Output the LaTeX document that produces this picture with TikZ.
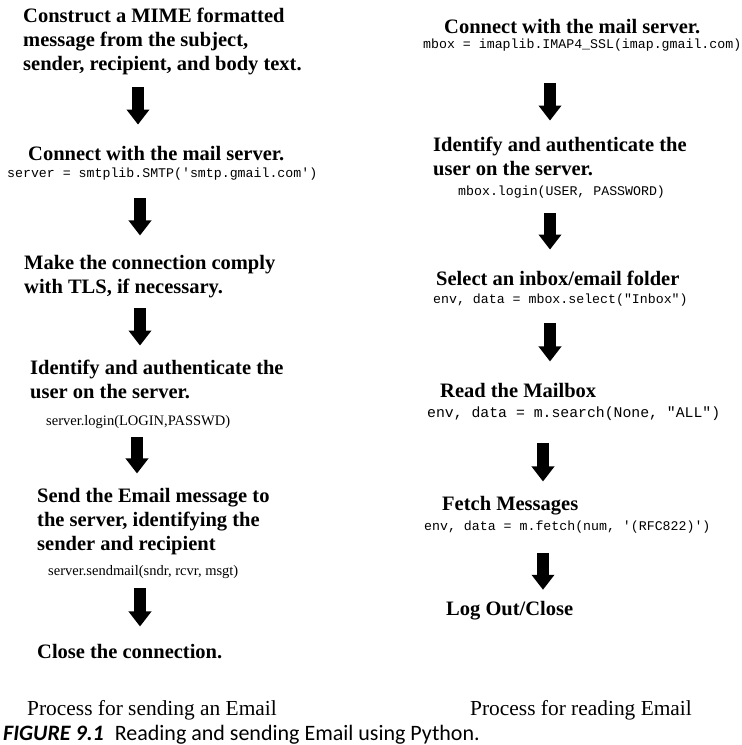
\documentclass[tikz,border=0pt]{standalone}
\usepackage{fontspec}
\setmainfont{Liberation Serif}
\setmonofont{Liberation Mono}
\newfontfamily\capfont{Carlito}
\usetikzlibrary{arrows.meta}

\begin{document}
\begin{tikzpicture}[
	x=1pt, y=1pt,
	stage/.style   = {anchor=base west, inner sep=0pt, align=left, font=\bfseries\fontsize{20.5}{24}\selectfont},
	code/.style    = {anchor=base west, inner sep=0pt, font=\ttfamily\fontsize{13.25}{15}\selectfont},
	call/.style    = {anchor=base west, inner sep=0pt, font=\fontsize{14.5}{16}\selectfont},
	heading/.style = {anchor=base west, inner sep=0pt, font=\fontsize{21.4}{24}\selectfont},
	blockarr/.style = {line width=12pt, -{Triangle[width=22pt, length=15pt]}}]
	\useasboundingbox (0,0) rectangle (742,-745);

	% sending column (multi-line nodes sit on their last baseline)
	\node[stage] (l1) at (23,-70) {Construct a MIME formatted\\message from the subject,\\sender, recipient, and body text.};
	\node[stage] (l2) at (28,-160) {Connect with the mail server.};
	\node[code]  (l2c) at (7,-177) {server = smtplib.SMTP('smtp.gmail.com')};
	\node[stage] (l3) at (24,-293) {Make the connection comply\\with TLS, if necessary.};
	\node[stage] (l4) at (30,-398) {Identify and authenticate the\\user on the server.};
	\node[call]  (l4c) at (46,-425) {server.login(LOGIN,PASSWD)};
	\node[stage] (l5) at (37,-550) {Send the Email message to\\the server, identifying the\\sender and recipient};
	\node[call]  (l5c) at (48,-575) {server.sendmail(sndr, rcvr, msgt)};
	\node[stage] (l6) at (37,-658) {Close the connection.};
	\node[heading] (lh) at (27,-715) {Process for sending an Email};

	% reading column
	\node[stage] (r1) at (444,-33) {Connect with the mail server.};
	\node[code]  (r1c) at (423,-48) {mbox = imaplib.IMAP4\_SSL(imap.gmail.com)};
	\node[stage] (r2) at (433,-175) {Identify and authenticate the\\user on the server.};
	\node[code]  (r2c) at (458,-195) {mbox.login(USER, PASSWORD)};
	\node[stage] (r3) at (436,-285) {Select an inbox/email folder};
	\node[code]  (r3c) at (433,-303) {env, data = mbox.select("Inbox")};
	\node[stage] (r4) at (440,-397) {Read the Mailbox};
	\node[code, font=\ttfamily\fontsize{14.8}{16}\selectfont] (r4c) at (427,-417) {env, data = m.search(None, "ALL")};
	\node[stage] (r5) at (442,-510) {Fetch Messages};
	\node[code]  (r5c) at (424,-530) {env, data = m.fetch(num, '(RFC822)')};
	\node[stage] (r6) at (446,-615) {Log Out/Close};
	\node[heading] (rh) at (470,-715) {Process for reading Email};

	% figure caption
	\node[anchor=base west, inner sep=0pt, font=\capfont\fontsize{22}{24}\selectfont] (cap) at (3,-740)
	  {{\bfseries\itshape FIGURE 9.1}\hspace{11pt}Reading and sending Email using Python.};

	% block arrows from each step to the next one
	\foreach \from/\to/\ax/\sa/\sb in {l1/l2/138/12.6pt/21pt, l2c/l3/140/18.3pt/19.1pt,
	    l3/l4/140/10.6pt/13.8pt, l4c/l5/137/8.9pt/14.1pt, l5c/l6/140/9.9pt/17.1pt,
	    r1c/r2/550/31.8pt/15.8pt, r2c/r3/550/15.3pt/20.8pt, r3c/r4/550/17.3pt/21.1pt,
	    r4c/r5/543/23pt/14.1pt, r5c/r6/543/20.3pt/10.8pt}
	  \draw[blockarr, shorten <=\sa, shorten >=\sb] (\from.south -| \ax,0) -- (\to.north -| \ax,0);
\end{tikzpicture}
\end{document}
